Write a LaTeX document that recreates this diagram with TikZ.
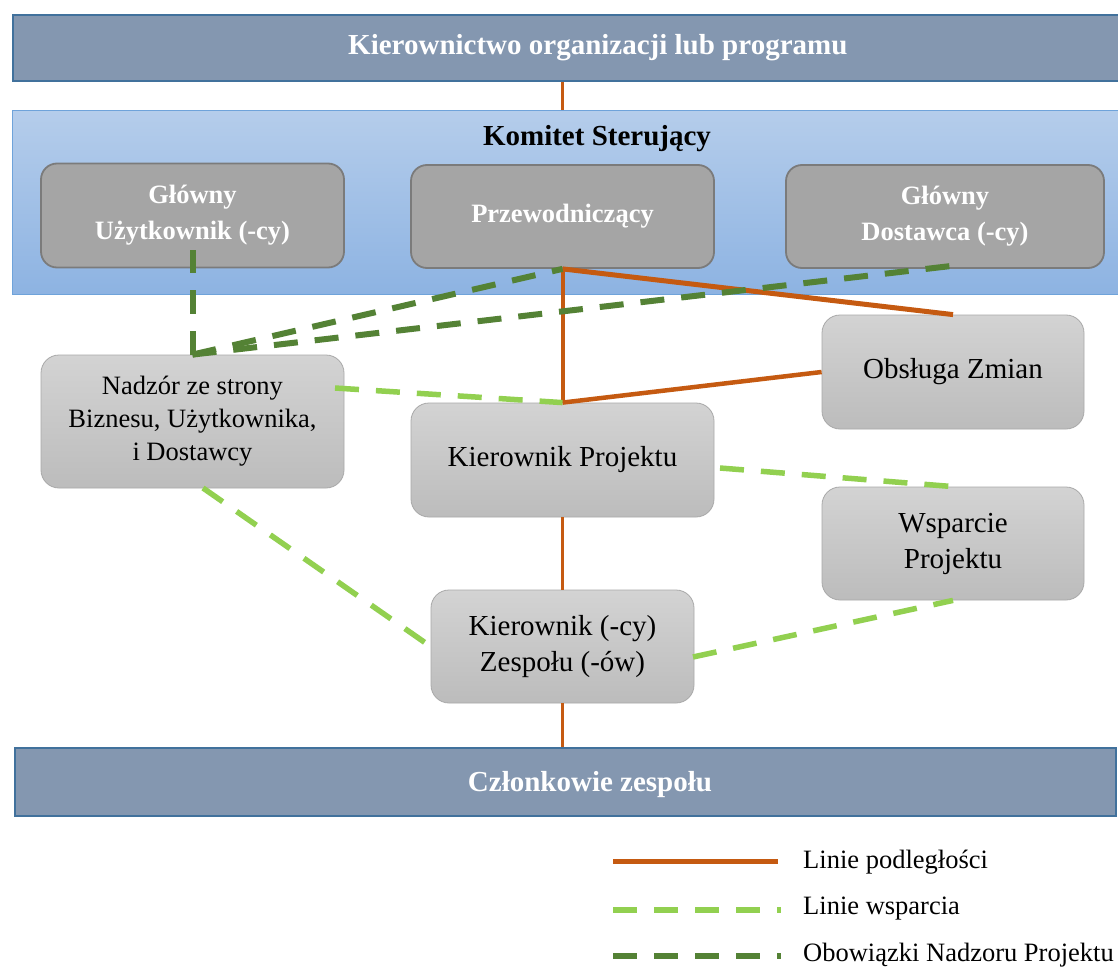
\documentclass[tikz,border=0pt]{standalone}
\usepackage{fontspec}
\setmainfont{Liberation Serif}
\usetikzlibrary{calc}
\definecolor{barfill}{HTML}{8497B0}
\definecolor{barline}{HTML}{41719C}
\definecolor{ktop}{HTML}{B5CDEB}
\definecolor{kbot}{HTML}{8DB3E2}
\definecolor{kline}{HTML}{6FA3DA}
\definecolor{gfill}{HTML}{A5A5A5}
\definecolor{gline}{HTML}{7B7B7B}
\definecolor{ltop}{HTML}{D3D3D3}
\definecolor{lbot}{HTML}{BCBCBC}
\definecolor{lline}{HTML}{A9A9A9}
\definecolor{orl}{HTML}{C55A11}
\definecolor{lgr}{HTML}{92D050}
\definecolor{dgr}{HTML}{548235}
\newcommand\myfbig{\fontsize{29}{36}\selectfont}
\newcommand\myfmid{\fontsize{26.5}{36}\selectfont}
\newcommand\myfnad{\fontsize{26.5}{33}\selectfont}
\begin{document}
\begin{tikzpicture}[x=1pt,y=-1pt,
  bar/.style={draw=barline, line width=1.6pt, fill=barfill, inner sep=0pt},
  gbox/.style={draw=gline, line width=1.8pt, fill=gfill, rounded corners=16pt,
    minimum height=104pt, text=white, font=\myfmid\bfseries, align=center, inner sep=0pt},
  lbox/.style={draw=lline, line width=0.8pt, top color=ltop, bottom color=lbot,
    rounded corners=18pt, font=\myfbig, align=center, inner sep=0pt},
  rep/.style={draw=orl, line cap=butt},
  sup/.style={draw=lgr, line width=5.5pt, dash pattern=on 24pt off 17pt},
  ovs/.style={draw=dgr, line width=6pt, dash pattern=on 24pt off 17pt},
  leg/.style={anchor=west, font=\fontsize{26.5}{32}\selectfont, inner sep=0pt}]
\useasboundingbox (0,0) rectangle (1118,968);
\fill[white] (0,0) rectangle (1118,968);

% bars and committee
\node[bar, minimum width=1170pt, minimum height=66pt, anchor=north west,
  text=white, font=\myfbig\bfseries] (top) at (12,14) {Kierownictwo organizacji lub programu};
\node[draw=kline, line width=1pt, top color=ktop, bottom color=kbot,
  minimum width=1170pt, minimum height=184pt, anchor=north west, inner sep=0pt] (komitet) at (12,110) {};
\node[font=\myfbig\bfseries] (ktitle) at (597,139) {Komitet Sterujący};
\node[bar, minimum width=1101pt, minimum height=68pt] (bottom) at (565.5,782) {};
\node[text=white, font=\myfbig\bfseries] (btext) at (590,785) {Członkowie zespołu};

% committee members
\node[gbox, minimum width=303pt] (gu) at (192.5,215.5) {Główny\\Użytkownik (-cy)};
\node[gbox, minimum width=303pt, minimum height=103pt] (prz) at (562.5,216.5) {Przewodniczący};
\node[gbox, minimum width=318pt, minimum height=103pt] (gd) at (945,216.5) {Główny\\Dostawca (-cy)};

% lower boxes
\node[lbox, minimum width=303pt, minimum height=133pt, font=\myfnad] (nad) at (192.5,421.5)
  {Nadzór ze strony\\Biznesu, Użytkownika,\\i Dostawcy};
\node[lbox, minimum width=303pt, minimum height=114pt] (kp) at (562.5,460) {Kierownik Projektu};
\node[lbox, minimum width=262pt, minimum height=114pt] (obs) at (953,372) {Obsługa Zmian};
\node[lbox, minimum width=262pt, minimum height=113pt] (wsp) at (953,543.5) {Wsparcie\\Projektu};
\node[lbox, minimum width=263pt, minimum height=113pt] (kz) at (562.5,646.5) {Kierownik (-cy)\\Zespołu (-ów)};

% reporting lines
\draw[rep, line width=3pt] (top.south -| prz.north) -- (komitet.north -| prz.north);
\draw[rep, line width=4pt] (prz.south) -- (kp.north);
\draw[rep, line width=5pt] (prz.south) -- (obs.north);
\draw[rep, line width=4.5pt] (kp.north) -- (obs.west);
\draw[rep, line width=3.5pt] (kp.south) -- (kz.north);
\draw[rep, line width=3.5pt] (kz.south) -- (bottom.north -| kz.south);

% oversight lines
\coordinate (guin) at (192.5,250);
\coordinate (gdb) at (951,266);
\draw[ovs] (nad.north) -- (guin);
\draw[ovs] (nad.north) -- (prz.south);
\draw[ovs] (nad.north) -- (gdb);

% support lines
\coordinate (nadr) at (335,388);
\coordinate (kpr) at (720,468);
\coordinate (nadb) at (203,488);
\coordinate (kzr) at (693,657);
\draw[sup] (nadr) -- (kp.north);
\draw[sup] (kpr) -- (wsp.north);
\draw[sup] (nadb) -- (kz.west);
\draw[sup] (kzr) -- (wsp.south);

% legend
\coordinate (l1a) at (613,861); \coordinate (l1b) at (778,861);
\coordinate (l2a) at (613,910); \coordinate (l2b) at (781,910);
\coordinate (l3a) at (613,956); \coordinate (l3b) at (781,956);
\draw[rep, line width=5pt] (l1a) -- (l1b);
\draw[sup] (l2a) -- (l2b);
\draw[ovs] (l3a) -- (l3b);
\node[leg] (t1) at (803,862) {Linie podległości};
\node[leg] (t2) at (803,909) {Linie wsparcia};
\node[leg] (t3) at (803,955) {Obowiązki Nadzoru Projektu};
\end{tikzpicture}
\end{document}
